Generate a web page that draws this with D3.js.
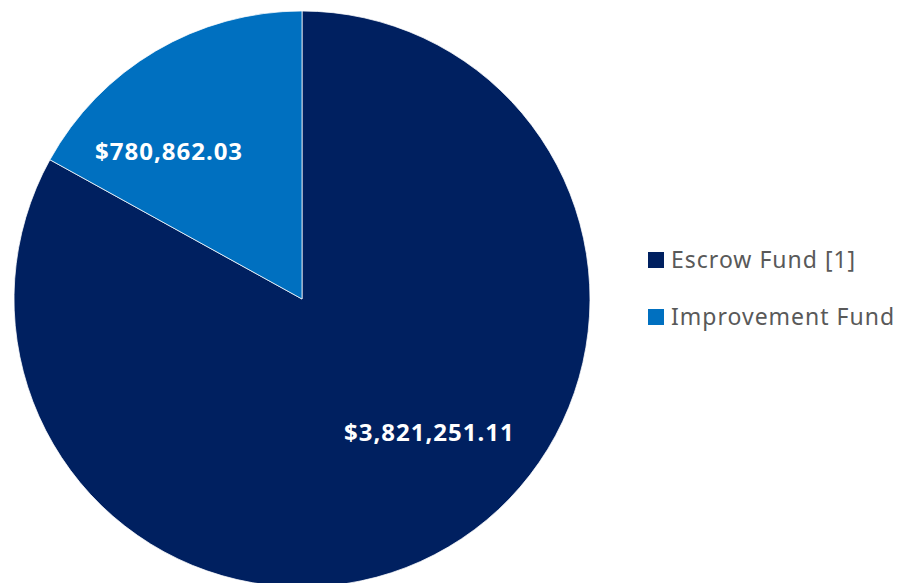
<!DOCTYPE html>
<html>
<head>
<meta charset="utf-8">
<script src="https://cdn.jsdelivr.net/npm/d3@7"></script>
<style>
  body { margin: 0; background: #fff; }
</style>
</head>
<body>
<div id="chart"></div>
<script>
// Chart data
let categories = ['Escrow Fund [1]', 'Improvement Fund']
let values = [3821251.11, 780862.03]
let labels = ['$3,821,251.11', '$780,862.03']
let colors = ['#002060', '#0070c0']

let width = 901
let height = 583
let cx = 302
let cy = 299
let radius = 288

let svg = d3.select('#chart').append('svg')
  .attr('width', width)
  .attr('height', height)

let pie = d3.pie()
  .sort(null)
  .value(d => d)

let arc = d3.arc()
  .innerRadius(0)
  .outerRadius(radius)

let slices = pie(values)

let g = svg.append('g')
  .attr('transform', `translate(${cx}, ${cy})`)

g.selectAll('path')
  .data(slices)
  .enter()
  .append('path')
  .attr('d', arc)
  .attr('fill', (d, i) => colors[i])
  .attr('stroke', '#fff')
  .attr('stroke-width', 0.75)

// Label placement: angle nudge (radians) and radius fraction per slice
let labelPlace = [
  { da: -0.23, r: 0.64 },
  { da: -0.20, r: 0.69 }
]

g.selectAll('text.label')
  .data(slices)
  .enter()
  .append('text')
  .attr('class', 'label')
  .attr('transform', (d, i) => {
    let a = (d.startAngle + d.endAngle) / 2 + labelPlace[i].da
    let [x, y] = d3.pointRadial(a, radius * labelPlace[i].r)
    return `translate(${x}, ${y})`
  })
  .attr('text-anchor', 'middle')
  .attr('dy', '0.35em')
  .style('font-family', '"Noto Sans", sans-serif')
  .style('font-weight', 'bold')
  .style('font-size', '24px')
  .style('letter-spacing', '1px')
  .style('fill', '#fff')
  .text((d, i) => labels[i])

// Legend
let legend = svg.append('g')
  .attr('transform', 'translate(648, 260)')

let item = legend.selectAll('g')
  .data(categories)
  .enter()
  .append('g')
  .attr('transform', (d, i) => `translate(0, ${i * 57})`)

item.append('rect')
  .attr('x', 0)
  .attr('y', -8)
  .attr('width', 16)
  .attr('height', 16)
  .attr('fill', (d, i) => colors[i])

item.append('text')
  .attr('x', 23)
  .attr('dy', '0.35em')
  .style('font-family', '"Noto Sans", sans-serif')
  .style('font-size', '23px')
  .style('letter-spacing', '1px')
  .style('fill', '#595959')
  .text(d => d)
</script>
</body>
</html>
